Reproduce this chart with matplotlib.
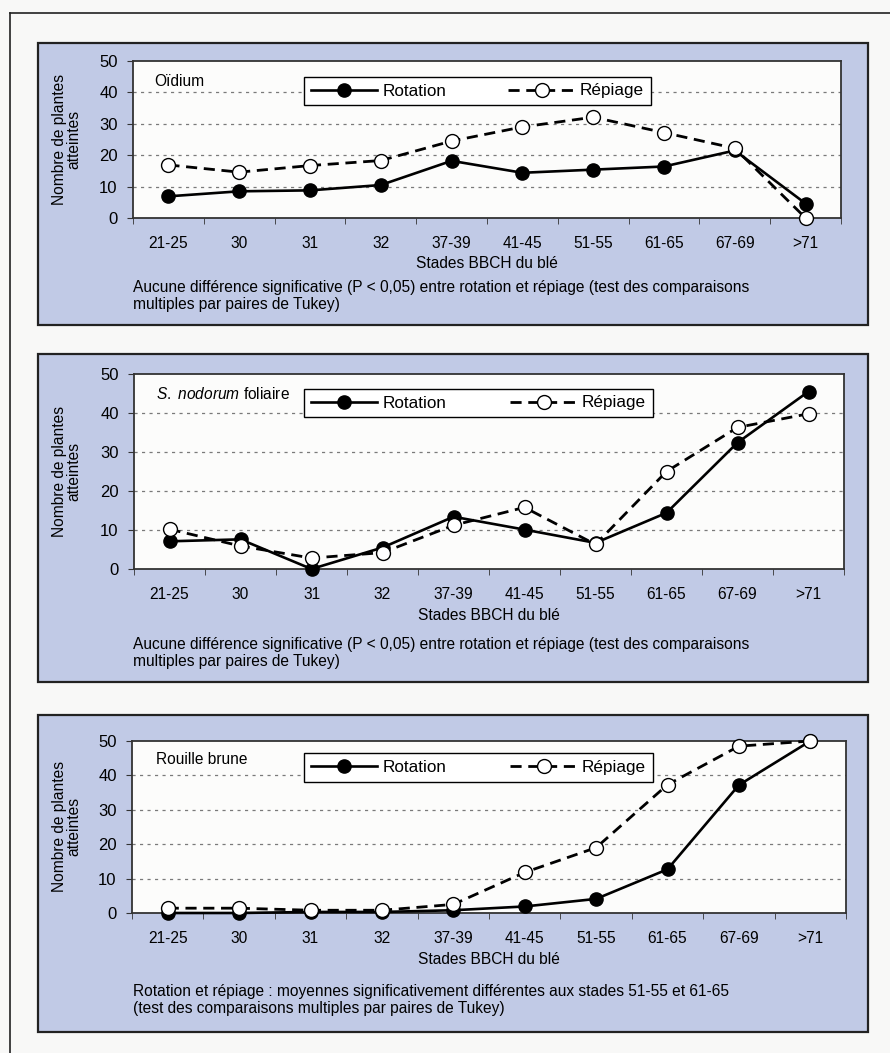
import matplotlib
matplotlib.use("Agg")
import matplotlib.pyplot as plt
from matplotlib.lines import Line2D
from matplotlib.patches import Rectangle

plt.rcParams["font.family"] = ["Liberation Sans", "DejaVu Sans"]
plt.rcParams["mathtext.fontset"] = "custom"
plt.rcParams["mathtext.rm"] = "Liberation Sans"
plt.rcParams["mathtext.it"] = "Liberation Sans:italic"

# stades BBCH
stades = ["21-25", "30", "31", "32", "37-39", "41-45", "51-55", "61-65", "67-69", ">71"]

oidium_rotation = [6.9, 8.5, 8.8, 10.5, 18.2, 14.4, 15.4, 16.4, 21.5, 4.6]
oidium_repiage = [16.9, 14.6, 16.7, 18.3, 24.5, 29.0, 32.1, 27.2, 22.2, 0.0]

nodorum_rotation = [7.1, 7.6, 0.0, 5.5, 13.4, 10.1, 6.7, 14.4, 32.4, 45.5]
nodorum_repiage = [10.2, 5.9, 2.8, 4.2, 11.2, 15.8, 6.3, 25.0, 36.3, 39.8]

rouille_rotation = [0.0, 0.0, 0.3, 0.3, 0.8, 1.9, 4.1, 12.7, 37.2, 50.0]
rouille_repiage = [1.4, 1.4, 0.8, 0.8, 2.5, 11.8, 19.0, 37.3, 48.5, 50.0]

titres = ["Oïdium", r"$\it{S.\ nodorum}$ foliaire", "Rouille brune"]
legendes = [
    "Aucune différence significative (P < 0,05) entre rotation et répiage (test des comparaisons\n"
    "multiples par paires de Tukey)",
    "Aucune différence significative (P < 0,05) entre rotation et répiage (test des comparaisons\n"
    "multiples par paires de Tukey)",
    "Rotation et répiage : moyennes significativement différentes aux stades 51-55 et 61-65\n"
    "(test des comparaisons multiples par paires de Tukey)",
]
series = [
    (oidium_rotation, oidium_repiage),
    (nodorum_rotation, nodorum_repiage),
    (rouille_rotation, rouille_repiage),
]

W, H = 890, 1053
BLUE = "#c1cae6"
BG = "#f8f8f7"

# cadres en pixels : boîte bleue, zone de tracé, légende, titre, xlabel, lignes du texte
layout = [
    dict(box=(38, 43, 868, 325), ax=(133, 61, 841, 218), leg=(304, 75, 651, 107),
         title=(154, 82), xlab=263, cap=296),
    dict(box=(38, 354, 868, 682), ax=(134, 374, 844, 569), leg=(304, 387, 653, 419),
         title=(156, 394), xlab=615, cap=653),
    dict(box=(38, 715, 868, 1032), ax=(132, 741, 846, 913), leg=(304, 752, 653, 783),
         title=(156, 759), xlab=959, cap=1000),
]


def fx(x):
    return x / W


def fy(y):
    return 1 - y / H


fig = plt.figure(figsize=(W / 100, H / 100), dpi=100, facecolor=BG)

# cadre extérieur (haut + gauche)
fig.add_artist(Line2D([fx(10), 1], [fy(13), fy(13)], color="#222222", lw=1.2))
fig.add_artist(Line2D([fx(10), fx(10)], [fy(13), 0], color="#222222", lw=1.2))

x = list(range(len(stades)))

for (rot, rep), titre, texte, lay in zip(series, titres, legendes, layout):
    bx0, by0, bx1, by1 = lay["box"]
    fig.add_artist(Rectangle((fx(bx0), fy(by1)), fx(bx1 - bx0), (by1 - by0) / H,
                             transform=fig.transFigure, facecolor=BLUE,
                             edgecolor="#222222", lw=1.6, zorder=0))

    ax0, ay0, ax1, ay1 = lay["ax"]
    ax = fig.add_axes([fx(ax0), fy(ay1), fx(ax1 - ax0), (ay1 - ay0) / H])
    ax.set_facecolor("#fcfcfb")

    for yv in (10, 20, 30, 40):
        ax.axhline(yv, color="#7a7a7a", lw=0.9, ls=(0, (2.5, 3.5)), zorder=1)

    ax.plot(x, rot, color="black", lw=1.9, marker="o", ms=9.5, mfc="black",
            mec="black", label="Rotation", clip_on=False, zorder=3)
    ax.plot(x, rep, color="black", lw=2.0, dashes=(4, 2.4), marker="o", ms=10,
            mfc="white", mec="black", mew=1.0, label="Répiage", clip_on=False, zorder=4)

    ax.set_xlim(-0.5, len(stades) - 0.5)
    ax.set_ylim(0, 50)
    ax.set_yticks([0, 10, 20, 30, 40, 50])
    ax.set_xticks(x)
    ax.set_xticklabels(stades)
    ax.set_xticks([i - 0.5 for i in range(len(stades) + 1)], minor=True)
    ax.tick_params(axis="x", which="major", length=0, pad=13, labelsize=11.2)
    ax.tick_params(axis="x", which="minor", length=4, direction="out", color="#333333")
    ax.tick_params(axis="y", length=4, direction="out", pad=7, labelsize=12, color="#333333")
    for sp in ax.spines.values():
        sp.set_color("#333333")
        sp.set_linewidth(1.3)

    lx0, ly0, lx1, ly1 = lay["leg"]
    leg = ax.legend(loc="center", ncol=2, mode="expand",
                    bbox_to_anchor=(fx(lx0), fy(ly1), fx(lx1 - lx0), (ly1 - ly0) / H),
                    bbox_transform=fig.transFigure, fontsize=12.3, frameon=True,
                    fancybox=False, framealpha=1, edgecolor="black", borderaxespad=0,
                    handlelength=3.9, handletextpad=0.3, borderpad=0.4)
    leg.get_frame().set_linewidth(1.0)
    leg.set_zorder(5)

    tx, ty = lay["title"]
    fig.text(fx(tx), fy(ty), titre, fontsize=11.2, va="center", ha="left")

    fig.text(fx(67), fy((ay0 + ay1) / 2), "Nombre de plantes\natteintes", rotation=90,
             ha="center", va="center", fontsize=11.2, linespacing=0.92, multialignment="center")
    fig.text(fx((ax0 + ax1) / 2), fy(lay["xlab"]), "Stades BBCH du blé",
             ha="center", va="center", fontsize=11.2)
    fig.text(fx(133), fy(lay["cap"]), texte, ha="left", va="center", fontsize=11.2,
             linespacing=1.2)

fig.savefig("out.png", dpi=100, facecolor=BG)
